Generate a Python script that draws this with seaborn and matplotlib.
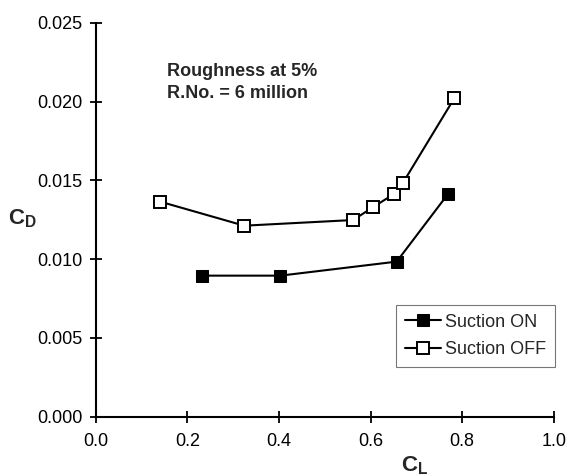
import matplotlib
matplotlib.use("Agg")
import matplotlib.pyplot as plt
import seaborn as sns
import pandas as pd

cl_on = [0.232, 0.403, 0.657, 0.769]
cd_on = [0.00895, 0.00895, 0.00984, 0.01413]
cl_off = [0.141, 0.324, 0.562, 0.605, 0.650, 0.670, 0.783]
cd_off = [0.01364, 0.01212, 0.01248, 0.01329, 0.01411, 0.01481, 0.02022]
series_names = ["Suction ON", "Suction OFF"]
x_ticks = [0.0, 0.2, 0.4, 0.6, 0.8, 1.0]
y_ticks = [0.000, 0.005, 0.010, 0.015, 0.020, 0.025]
annotation = "Roughness at 5%\nR.No. = 6 million"

sns.set_theme(style="ticks")
plt.rcParams["font.family"] = ["Liberation Sans", "DejaVu Sans"]
plt.rcParams["mathtext.fontset"] = "custom"
plt.rcParams["mathtext.bf"] = "Liberation Sans:bold"
plt.rcParams["mathtext.rm"] = "Liberation Sans"

df_on = pd.DataFrame({"CL": cl_on, "CD": cd_on})
df_off = pd.DataFrame({"CL": cl_off, "CD": cd_off})

fig = plt.figure(figsize=(5.67, 4.76), dpi=100)
ax = fig.add_axes([0.169, 0.1246, 0.8077, 0.8277])

sns.lineplot(data=df_on, x="CL", y="CD", ax=ax, sort=False, color="black",
             marker="s", markersize=8.5, markerfacecolor="black",
             markeredgecolor="black", linewidth=1.5, label=series_names[0])
sns.lineplot(data=df_off, x="CL", y="CD", ax=ax, sort=False, color="black",
             marker="s", markersize=8.5, markerfacecolor="white",
             markeredgecolor="black", markeredgewidth=1.4, linewidth=1.5,
             label=series_names[1])

ax.set_xlim(0, 1.0)
ax.set_ylim(0, 0.025)
ax.set_xticks(x_ticks)
ax.set_yticks(y_ticks)
ax.set_xticklabels([f"{v:.1f}" for v in x_ticks])
ax.set_yticklabels([f"{v:.3f}" for v in y_ticks])
ax.tick_params(direction="inout", length=9, width=1.3, labelsize=13,
               colors="black")
ax.tick_params(axis="x", pad=7)
ax.tick_params(axis="y", pad=5)
for s in ["top", "right"]:
    ax.spines[s].set_visible(False)
for s in ["left", "bottom"]:
    ax.spines[s].set_linewidth(1.5)
    ax.spines[s].set_color("black")
ax.set_xlabel("")
ax.set_ylabel("")

fig.text(22 / 567, 1 - 219 / 476, r"$\mathbf{C_D}$", fontsize=16,
         ha="center", va="center")
fig.text(415 / 567, 1 - 466 / 476, r"$\mathbf{C_L}$", fontsize=16,
         ha="center", va="center")

ax.text(0.155, 0.02120, annotation, fontsize=13, fontweight="bold",
        ha="left", va="center", linespacing=1.4)

leg = ax.legend(loc="lower right", bbox_to_anchor=(1.003, 0.125),
                frameon=True, fancybox=False, fontsize=13,
                handlelength=2.0, handletextpad=0.2, borderpad=0.5,
                labelspacing=0.6, borderaxespad=0)
leg.get_frame().set_edgecolor("#555555")
leg.get_frame().set_linewidth(0.8)

fig.savefig("out.png", dpi=100, facecolor="white")
